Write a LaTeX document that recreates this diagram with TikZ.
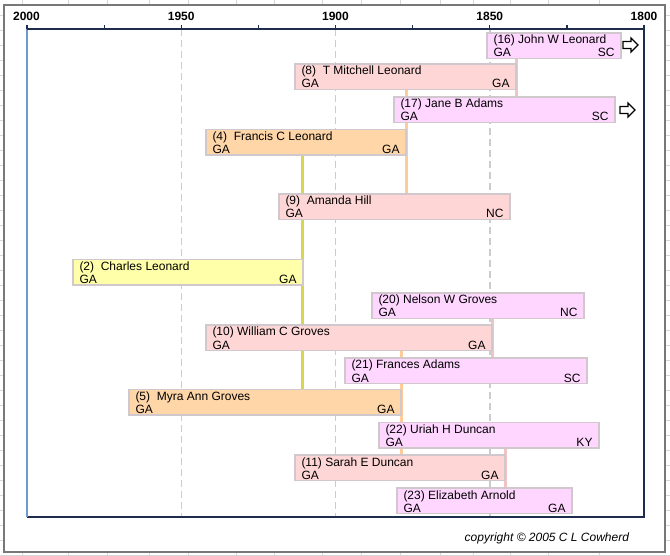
\documentclass[tikz,border=0pt]{standalone}
\usepackage{fontspec}
\setmainfont{Liberation Sans}
\definecolor{magbar}{RGB}{255,214,255}
\definecolor{salbar}{RGB}{255,214,214}
\definecolor{orabar}{RGB}{255,214,168}
\definecolor{yelbar}{RGB}{255,255,170}
\definecolor{barline}{RGB}{208,200,204}
\definecolor{salcon}{RGB}{240,196,196}
\definecolor{oracon}{RGB}{255,204,153}
\definecolor{yelcon}{RGB}{214,214,80}
\definecolor{navy}{RGB}{30,45,75}
\definecolor{leftblue}{RGB}{110,155,205}
\definecolor{dashgray}{RGB}{204,204,204}
\definecolor{cellgray}{RGB}{215,215,215}
\definecolor{framegray}{RGB}{120,120,120}
\pgfdeclarelayer{bgzero}
\pgfdeclarelayer{bgone}
\pgfsetlayers{bgzero,bgone,main}
\tikzset{
  barbox/.style={draw=barline, line width=1.1pt, rectangle, inner sep=0pt, outer sep=0pt, minimum height=25.5pt},
  bartxt/.style={inner sep=0pt, outer sep=0pt, font=\fontsize{12}{14}\selectfont},
  yearlbl/.style={inner sep=0pt, font=\fontsize{12}{14}\selectfont\bfseries},
  conn/.style={line width=3pt},
  gridcell/.style={cellgray, line width=0.8pt},
  dashgrid/.style={dashgray, line width=1.5pt, dash pattern=on 7pt off 4pt},
  blockarrow/.style={draw=black, fill=white, line width=1.2pt, line join=miter},
}
\newcommand\pbar[8]{%
  \pgfmathsetmacro\bw{#4-#2}%
  \node[barbox, fill=#5, minimum width=\bw pt, anchor=north west] (#1) at (#2,#3) {};
  \node[bartxt, anchor=base west] (#1t) at ([xshift=6.5pt,yshift=-11pt]#1.north west) {#6};
  \node[bartxt, anchor=base west] (#1l) at ([xshift=6.5pt,yshift=-24pt]#1.north west) {#7};
  \node[bartxt, anchor=base east] (#1r) at ([xshift=-6.5pt,yshift=-24pt]#1.north east) {#8};
}
\newcommand\blockarr[2]{%
  \draw[blockarrow] (#1,#2-3.5) -- (#1+8,#2-3.5) -- (#1+8,#2-7) -- (#1+15,#2)
    -- (#1+8,#2+7) -- (#1+8,#2+3.5) -- (#1,#2+3.5) -- cycle;
}
\begin{document}
\begin{tikzpicture}[x=1pt,y=-1pt]
\useasboundingbox (0,0) rectangle (670,556);
\begin{pgfonlayer}{bgzero}
% spreadsheet cells behind the chart
\foreach \gx in {22,68,107,149,188,236,274,322,361,400,440,473,510,548,599}
  \draw[gridcell] (\gx,0) -- (\gx,556);
\foreach \gy in {15,30,...,555}
  \draw[gridcell] (0,\gy) -- (670,\gy);
% chart area
\draw[framegray, line width=2pt, fill=white] (4,5) rectangle (665,552);
% vertical dashed gridlines
\foreach \gx in {181.25,335.5,489.75}
  \draw[dashgrid] (\gx,29) -- (\gx,517);
% plot frame
\draw[navy, line width=1.4pt] (27,517) -- (644,517) -- (644,29);
\draw[leftblue, line width=2pt] (27,29) -- (27,517);
\draw[navy, line width=1.4pt] (27,29) -- (644,29);
\foreach \gx in {27,104.1,181.25,258.4,335.5,412.6,489.75,566.9,644}
  \draw[navy, line width=1.2pt] (\gx,29) -- (\gx,25);
\end{pgfonlayer}
% year labels
\node[yearlbl] (y2000) at (26.5,16) {2000};
\node[yearlbl] (y1950) at (181.25,16) {1950};
\node[yearlbl] (y1900) at (335.5,16) {1900};
\node[yearlbl] (y1850) at (489.75,16) {1850};
\node[yearlbl] (y1800) at (644,16) {1800};
% bars
\pbar{b16}{487}{33}{621}{magbar}{(16) John W Leonard}{GA}{SC}
\pbar{b8}{295}{64}{516}{salbar}{(8)\ \ T Mitchell Leonard}{GA}{GA}
\pbar{b17}{394}{97}{615}{magbar}{(17) Jane B Adams}{GA}{SC}
\pbar{b4}{206}{129.5}{406}{orabar}{(4)\ \ Francis C Leonard}{GA}{GA}
\pbar{b9}{279}{194}{510}{salbar}{(9)\ \ Amanda Hill}{GA}{NC}
\pbar{b2}{73}{259.5}{303}{yelbar}{(2)\ \ Charles Leonard}{GA}{GA}
\pbar{b20}{372}{293}{584}{magbar}{(20) Nelson W Groves}{GA}{NC}
\pbar{b10}{206}{325}{492}{salbar}{(10) William C Groves}{GA}{GA}
\pbar{b21}{345}{358}{587}{magbar}{(21) Frances Adams}{GA}{SC}
\pbar{b5}{129}{389.5}{401}{orabar}{(5)\ \ Myra Ann Groves}{GA}{GA}
\pbar{b22}{379}{422.5}{599}{magbar}{(22) Uriah H Duncan}{GA}{KY}
\pbar{b11}{295}{455}{505}{salbar}{(11) Sarah E Duncan}{GA}{GA}
\pbar{b23}{397}{488}{572}{magbar}{(23) Elizabeth Arnold}{GA}{GA}
% parent connectors (behind the bars)
\begin{pgfonlayer}{bgone}
\draw[conn, salcon] (b8.north east |- b16.south) -- (b8.north east |- b17.north);
\draw[conn, oracon] (b4.north east |- b8.south) -- (b4.north east |- b9.north);
\draw[conn, yelcon] ([xshift=-0.5pt]b2.north east |- b4.south) -- ([xshift=-0.5pt]b2.north east |- b5.north);
\draw[conn, salcon] (b10.north east |- b20.south) -- (b10.north east |- b21.north);
\draw[conn, oracon] (b5.north east |- b10.south) -- (b5.north east |- b11.north);
\draw[conn, salcon] (b11.north east |- b22.south) -- (b11.north east |- b23.north);
\end{pgfonlayer}
% continuation arrows
\blockarr{623}{45}
\blockarr{620}{110}
% copyright
\node[bartxt, anchor=base east, font=\fontsize{12}{14}\selectfont\itshape] (copy) at (629,541) {copyright © 2005 C L Cowherd};
\end{tikzpicture}
\end{document}
